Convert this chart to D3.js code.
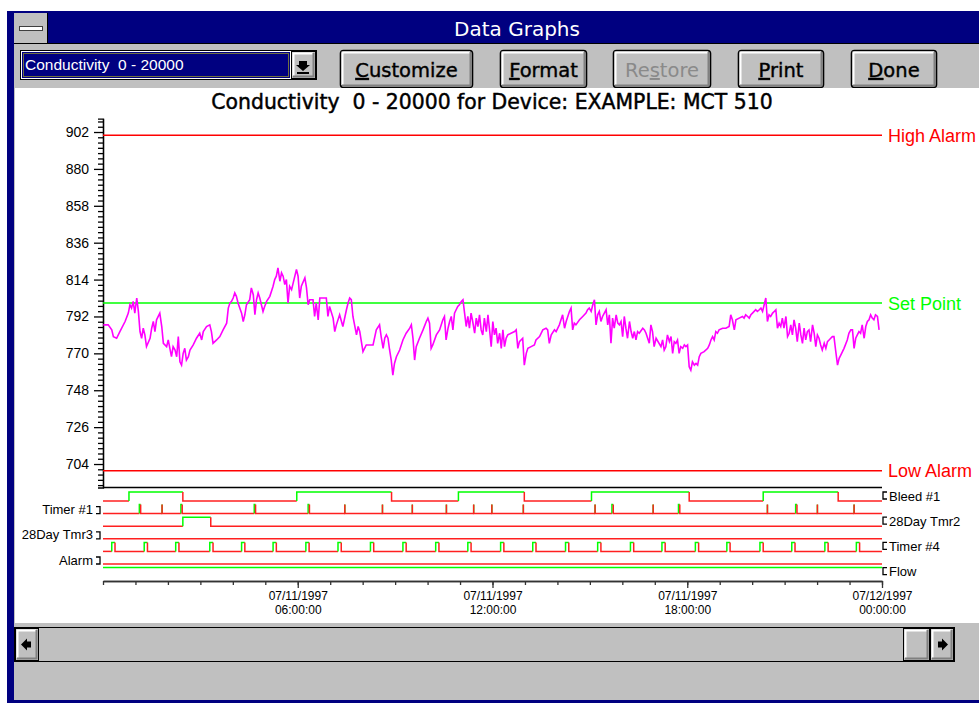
<!DOCTYPE html>
<html>
<head>
<meta charset="utf-8">
<style>
  body { margin: 0; background: #fff; }
  svg { display: block; }
</style>
</head>
<body>
<div id="chart_container"></div>
<script src="https://cdn.jsdelivr.net/npm/d3@7"></script>
<script>
// ---- data ----
const windowTitle = 'Data Graphs'
const comboText = 'Conductivity  0 - 20000'
const chartTitle = 'Conductivity  0 - 20000 for Device: EXAMPLE: MCT 510'

// y tick labels (conductivity)
const yTickValues = [704, 726, 748, 770, 792, 814, 836, 858, 880, 902]

// reference lines
const refNames = ['High Alarm', 'Set Point', 'Low Alarm']
const refValues = [900, 800, 700]
const refColors = ['#ff0000', '#00ff00', '#ff0000']

// x axis: hours after 07/11/1997 00:00:00
const xLabelHours = [6, 12, 18, 24]

// conductivity trace: [hours, value]
const conductivity = [
  [0.01,787],[0.16,787],[0.27,784],[0.32,780],[0.42,779],[0.52,783],[0.68,789],[0.78,794],[0.83,799],[0.88,797],
  [0.93,801],[0.98,794],[1.04,803],[1.09,795],[1.14,783],[1.19,779],[1.24,785],[1.29,781],[1.34,774],[1.45,779],
  [1.50,785],[1.55,789],[1.60,783],[1.65,790],[1.75,794],[1.81,786],[1.86,776],[1.96,774],[2.01,778],[2.06,773],
  [2.11,768],[2.16,774],[2.22,772],[2.27,768],[2.32,780],[2.37,765],[2.42,763],[2.47,770],[2.52,773],[2.57,766],
  [2.63,768],[2.68,772],[2.78,775],[2.88,779],[2.98,782],[3.04,778],[3.09,783],[3.19,786],[3.29,787],[3.34,783],
  [3.39,776],[3.50,778],[3.60,780],[3.70,784],[3.81,788],[3.86,797],[3.91,800],[3.96,801],[4.01,803],[4.06,806],
  [4.11,804],[4.16,800],[4.27,794],[4.32,789],[4.37,793],[4.42,799],[4.52,802],[4.57,809],[4.63,805],[4.68,793],
  [4.73,802],[4.78,806],[4.83,803],[4.88,799],[4.93,795],[4.98,798],[5.04,801],[5.14,804],[5.24,810],[5.29,814],
  [5.34,816],[5.39,821],[5.45,813],[5.50,818],[5.55,816],[5.60,811],[5.65,814],[5.70,800],[5.75,810],[5.81,808],
  [5.86,812],[5.96,820],[6.01,816],[6.06,803],[6.11,810],[6.22,815],[6.27,809],[6.32,799],[6.37,802],[6.47,802],
  [6.52,792],[6.57,800],[6.63,790],[6.68,803],[6.78,803],[6.88,803],[6.93,792],[6.98,798],[7.09,791],[7.14,783],
  [7.19,787],[7.29,793],[7.39,786],[7.50,796],[7.55,800],[7.60,803],[7.65,802],[7.70,792],[7.81,781],[7.86,786],
  [7.91,783],[8.01,771],[8.11,775],[8.22,775],[8.32,775],[8.42,784],
  [8.52,787],[8.57,780],[8.63,773],[8.68,779],[8.73,781],[8.78,779],[8.83,772],[8.88,766],[8.93,757],[8.98,764],
  [9.04,768],[9.14,772],[9.24,778],[9.34,782],[9.45,785],[9.50,787],[9.55,779],[9.60,766],[9.65,774],[9.75,779],
  [9.86,784],[9.96,789],[10.01,791],[10.06,788],[10.11,773],[10.16,775],[10.27,781],[10.37,784],[10.47,790],[10.52,792],
  [10.57,778],[10.63,785],[10.68,789],[10.73,792],[10.78,784],[10.83,794],[10.88,796],[10.93,798],[10.98,799],[11.04,801],
  [11.09,802],[11.14,794],[11.19,786],[11.24,792],[11.29,785],[11.34,794],[11.39,789],[11.45,782],[11.50,791],[11.55,786],
  [11.60,793],[11.65,784],[11.70,781],[11.75,791],[11.81,783],[11.86,793],[11.91,784],[11.96,774],[12.01,789],[12.06,781],
  [12.11,785],[12.16,776],[12.22,782],[12.27,773],[12.32,784],[12.37,774],[12.42,779],[12.47,781],[12.57,782],[12.68,783],
  [12.73,784],[12.78,773],[12.83,777],[12.93,779],[12.98,763],[13.04,770],[13.09,773],[13.19,774],[13.29,775],[13.34,778],
  [13.45,780],[13.55,784],[13.65,785],[13.70,784],[13.75,776],[13.81,781],[13.91,784],[13.96,783],[14.06,787],[14.11,790],
  [14.16,793],[14.22,785],[14.27,789],[14.37,795],[14.42,797],[14.47,784],[14.52,788],[14.57,787],[14.68,790],[14.78,792],
  [14.88,794],[14.93,796],[14.98,797],[15.04,795],[15.09,799],[15.14,802],[15.19,787],[15.24,793],[15.29,795],[15.34,789],
  [15.39,792],[15.50,796],[15.55,787],[15.60,793],[15.65,776],[15.70,791],[15.75,785],[15.81,793],[15.86,788],[15.91,787],
  [15.96,789],[16.01,780],[16.06,792],[16.11,785],[16.16,779],[16.22,789],[16.27,783],[16.32,779],[16.37,783],[16.42,778],
  [16.47,783],[16.52,782],[16.63,785],[16.68,784],[16.73,782],[16.83,776],[16.88,787],[16.93,783],[16.98,774],[17.04,779],
  [17.19,774],[17.24,778],[17.29,772],[17.34,774],[17.39,781],[17.45,777],[17.50,780],[17.55,770],[17.60,777],[17.65,776],
  [17.70,778],[17.75,770],[17.80,774],[17.86,773],[17.91,775],[17.96,774],[18.01,775],[18.06,762],[18.11,760],[18.16,765],
  [18.22,763],[18.27,764],[18.32,763],[18.37,768],[18.42,770],[18.52,771],[18.63,773],[18.68,775],[18.73,778],[18.78,780],
  [18.83,778],[18.88,783],[18.93,782],[18.98,784],[19.09,785],[19.19,785],[19.29,786],[19.34,793],[19.39,790],[19.45,784],
  [19.50,790],[19.60,791],[19.70,792],[19.75,791],[19.80,793],[19.86,792],[19.91,791],[19.96,793],[20.01,794],[20.11,796],
  [20.16,795],[20.22,796],[20.27,797],[20.32,795],[20.37,799],[20.42,803],[20.47,789],[20.52,793],[20.57,792],[20.63,794],
  [20.68,795],[20.73,796],[20.78,785],[20.83,788],[20.88,786],[20.93,791],[20.98,785],[21.04,792],[21.09,780],[21.14,782],
  [21.19,787],[21.24,781],[21.29,790],[21.34,785],[21.39,777],[21.45,788],[21.50,781],[21.55,776],[21.60,785],[21.65,778],
  [21.70,783],[21.75,784],[21.80,777],[21.86,787],[21.91,782],[21.96,774],[22.01,781],[22.06,779],[22.11,775],[22.16,772],
  [22.22,776],[22.27,773],[22.32,777],[22.37,778],[22.42,779],[22.47,780],[22.52,780],[22.57,772],[22.63,763],[22.68,767],
  [22.73,769],[22.83,773],[22.93,778],[22.98,782],[23.04,784],[23.09,784],[23.14,773],[23.19,779],[23.24,781],[23.29,783],
  [23.34,782],[23.39,787],[23.45,779],[23.50,786],[23.55,789],[23.60,790],[23.65,793],[23.70,791],[23.75,790],[23.80,793],
  [23.86,792],[23.91,784]
]

// digital channels, top to bottom; on-periods as [startHour, endHour]
const channelNames = ['Bleed #1', 'Timer #1', '28Day Tmr2', '28Day Tmr3', 'Timer #4', 'Alarm', 'Flow']
const bleed1On = [[0.80, 2.46], [5.97, 8.89], [10.95, 12.98], [15.05, 18.06], [20.34, 22.65]]
const timer1On = [[1.12, 1.16], [1.82, 1.82], [2.40, 2.44], [4.66, 4.70], [6.32, 6.36], [7.45, 7.45], [8.61, 8.61],
  [9.53, 9.53], [10.58, 10.58], [11.42, 11.42], [11.98, 11.98], [12.95, 12.95], [15.16, 15.16], [15.68, 15.72],
  [16.95, 16.95], [17.73, 17.77], [20.47, 20.47], [21.34, 21.38], [22.01, 22.01], [23.14, 23.14]]
const tmr2On = [[2.46, 3.32]]
const tmr3On = []
const timer4On = [[0.27, 0.37], [1.27, 1.37], [2.24, 2.34], [3.29, 3.39], [4.27, 4.37], [5.24, 5.34], [6.25, 6.35],
  [7.24, 7.34], [8.24, 8.34], [9.24, 9.34], [10.25, 10.35], [11.24, 11.34], [12.25, 12.35], [13.24, 13.34],
  [14.25, 14.35], [15.24, 15.34], [16.25, 16.35], [17.22, 17.32], [18.25, 18.35], [19.22, 19.32], [20.24, 20.34],
  [21.22, 21.32], [22.24, 22.34], [23.21, 23.31]]
const alarmOn = []
const flowOn = [[0, 24]]

// ---- drawing ----
const W = 979, H = 703
const navy = '#000080', gray = '#c0c0c0', dark = '#808080'
const uiFont = '"DejaVu Sans", Verdana, sans-serif'
const axFont = '"Liberation Sans", Arial, sans-serif'

const t0 = new Date(1997, 6, 11, 0, 0, 0)
const at = h => new Date(t0.getTime() + h * 3600000)

const svg = d3.select('#chart_container')
  .append('svg')
  .attr('width', W)
  .attr('height', H)

// window chrome
svg.append('rect').attr('width', W).attr('height', H).attr('fill', '#fff')
svg.append('rect').attr('x', 7).attr('y', 11).attr('width', W - 7).attr('height', H - 11).attr('fill', navy)
svg.append('rect').attr('x', 14).attr('y', 13).attr('width', W - 14).attr('height', 687).attr('fill', gray)
svg.append('rect').attr('x', 47).attr('y', 13).attr('width', W - 47).attr('height', 30).attr('fill', navy)
svg.append('line').attr('x1', 14).attr('x2', W).attr('y1', 43.5).attr('y2', 43.5).attr('stroke', '#000')
svg.append('line').attr('x1', 47.5).attr('x2', 47.5).attr('y1', 13).attr('y2', 43).attr('stroke', '#000')
svg.append('rect').attr('x', 19.5).attr('y', 26.5).attr('width', 23).attr('height', 4)
  .attr('fill', '#fff').attr('stroke', '#404040')
svg.append('text').attr('x', 517).attr('y', 36).attr('text-anchor', 'middle')
  .attr('font-family', uiFont).attr('font-size', 20).attr('fill', '#fff').text(windowTitle)

// 3d box helper
function bevel(x0, y0, w, h, round) {
  const g = svg.append('g')
  g.append('rect').attr('x', x0 + 0.5).attr('y', y0 + 0.5).attr('width', w - 1).attr('height', h - 1)
    .attr('rx', round ? 3 : 0).attr('fill', gray).attr('stroke', '#000').attr('stroke-width', round ? 1.6 : 1)
  g.append('path').attr('d', `M${x0 + 2.5},${y0 + h - 3} V${y0 + 2.5} H${x0 + w - 3}`)
    .attr('fill', 'none').attr('stroke', '#fff').attr('stroke-width', 2)
  g.append('path').attr('d', `M${x0 + 2},${y0 + h - 2.5} H${x0 + w - 2.5} V${y0 + 2}`)
    .attr('fill', 'none').attr('stroke', dark).attr('stroke-width', 2)
  return g
}

// combo box
svg.append('rect').attr('x', 20.5).attr('y', 50.5).attr('width', 296).attr('height', 29)
  .attr('fill', '#fff').attr('stroke', '#000')
svg.append('rect').attr('x', 22).attr('y', 52).attr('width', 268).attr('height', 26).attr('fill', navy)
svg.append('rect').attr('x', 23.5).attr('y', 53.5).attr('width', 265).attr('height', 23)
  .attr('fill', 'none').attr('stroke', '#e0e000').attr('stroke-dasharray', '1,1')
svg.append('text').attr('x', 25).attr('y', 70).attr('font-family', axFont).attr('font-size', 15.5)
  .attr('fill', '#fff').style('white-space', 'pre').text(comboText)
const arrowBtn = bevel(291, 51, 25, 28, false)
arrowBtn.append('path').attr('d', 'M299,61 h8 v4 h3 l-7,6 l-7,-6 h3 z').attr('fill', '#000')
arrowBtn.append('rect').attr('x', 297).attr('y', 72).attr('width', 12).attr('height', 2).attr('fill', '#000')

// buttons
const buttons = [
  { label: 'Customize', x: 340, w: 133, u: 0 },
  { label: 'Format', x: 500, w: 87, u: 0 },
  { label: 'Restore', x: 613, w: 98, u: 2, off: true },
  { label: 'Print', x: 738, w: 86, u: 0 },
  { label: 'Done', x: 851, w: 86, u: 0 }
]
buttons.forEach(b => {
  const g = bevel(b.x, 50, b.w, 38, true)
  const col = b.off ? '#8a8a8a' : '#000'
  const t = g.append('text').attr('x', b.x + b.w / 2).attr('y', 77).attr('text-anchor', 'middle')
    .attr('font-family', uiFont).attr('font-size', 19.5).attr('fill', col)
    .attr('stroke', col).attr('stroke-width', b.off ? 0 : 0.4)
  t.append('tspan').text(b.label.slice(0, b.u))
  t.append('tspan').attr('text-decoration', 'underline').style('text-decoration', 'underline')
    .text(b.label[b.u])
  t.append('tspan').text(b.label.slice(b.u + 1))
})

// white chart area
svg.append('rect').attr('x', 15).attr('y', 88).attr('width', W - 15).attr('height', 535).attr('fill', '#fff')

svg.append('text').attr('x', 492).attr('y', 109).attr('text-anchor', 'middle')
  .attr('font-family', uiFont).attr('font-size', 20.4).attr('fill', '#000')
  .attr('stroke', '#000').attr('stroke-width', 0.45)
  .style('white-space', 'pre').text(chartTitle)

// scales
const x = d3.scaleTime().domain([at(0), at(24)]).range([103, 882])
const y = d3.scaleLinear().domain([690, 910]).range([487.5, 118.6])
const yCh = d3.scalePoint().domain(channelNames).range([501, 576.6])
const xAxisY = 581

// y axis: minor ticks then labelled majors
const yMinor = d3.range(-4, 66).map(k => 704 + k * 22 / 7)
  .filter(v => v >= 690 && v <= 910 && !yTickValues.some(m => Math.abs(m - v) < 0.01))
svg.append('g').attr('transform', 'translate(103,0)').attr('color', '#000')
  .call(d3.axisLeft(y).tickValues(yMinor).tickSize(5).tickSizeOuter(5).tickFormat(''))
const yAx = svg.append('g').attr('transform', 'translate(103,0)').attr('color', '#000')
  .call(d3.axisLeft(y).tickValues(yTickValues).tickSize(9).tickSizeOuter(0).tickPadding(5))
yAx.selectAll('text').attr('font-family', axFont).attr('font-size', 14).attr('fill', '#000')

// bottom border of analog plot
svg.append('line').attr('x1', x.range()[0]).attr('x2', x.range()[1])
  .attr('y1', y.range()[0]).attr('y2', y.range()[0]).attr('stroke', '#000').attr('stroke-width', 1.3)

// reference lines
refValues.forEach((v, i) => {
  svg.append('line').attr('x1', x.range()[0]).attr('x2', x.range()[1])
    .attr('y1', y(v)).attr('y2', y(v)).attr('stroke', refColors[i]).attr('stroke-width', 1.5)
  svg.append('text').attr('x', 888).attr('y', y(v)).attr('dy', '0.36em')
    .attr('font-family', axFont).attr('font-size', 18).attr('fill', refColors[i]).text(refNames[i])
})

// conductivity trace
svg.append('path')
  .datum(conductivity)
  .attr('d', d3.line().x(d => x(at(d[0]))).y(d => y(d[1])))
  .attr('fill', 'none').attr('stroke', '#ff00ff').attr('stroke-width', 1.6)

// digital channels
const channelOn = [bleed1On, timer1On, tmr2On, tmr3On, timer4On, alarmOn, flowOn]
const red = '#ff2020', green = '#00ff00'
channelNames.forEach((name, i) => {
  const lo = yCh(name), hi = lo - 9
  const g = svg.append('g').attr('fill', 'none').attr('stroke-width', 1.5)
  let prev = 0, prevHigh = false
  const segs = []
  channelOn[i].forEach(([a, b]) => {
    if (a > prev || !prevHigh) {
      const pts = prevHigh ? [[prev, hi], [prev, lo]] : [[prev, lo]]
      pts.push([a, lo])
      if (a > 0 || prevHigh) segs.push({ c: red, pts })
    }
    const up = a > 0 ? [[a, lo], [a, hi]] : [[a, hi]]
    up.push([b, hi])
    segs.push({ c: green, pts: up })
    prev = b
    prevHigh = true
  })
  if (prev < 24) {
    const pts = prevHigh ? [[prev, hi], [prev, lo], [24, lo]] : [[0, lo], [24, lo]]
    segs.push({ c: red, pts })
  }
  const ln = d3.line().x(d => x(at(d[0]))).y(d => d[1])
  segs.forEach(s => g.append('path').attr('d', ln(s.pts)).attr('stroke', s.c))

  // label and bracket
  if (i % 2 === 0) {
    svg.append('path').attr('d', `M887,${lo - 9} H883 V${lo - 2} H887`)
      .attr('fill', 'none').attr('stroke', '#000').attr('stroke-width', 1.3)
    svg.append('text').attr('x', 889).attr('y', lo - 5).attr('dy', '0.36em')
      .attr('font-family', axFont).attr('font-size', 13).attr('fill', '#000').text(name)
  } else {
    svg.append('path').attr('d', `M96,${lo - 7} H100 V${lo} H96`)
      .attr('fill', 'none').attr('stroke', '#000').attr('stroke-width', 1.3)
    svg.append('text').attr('x', 93).attr('y', lo - 4).attr('dy', '0.36em').attr('text-anchor', 'end')
      .attr('font-family', axFont).attr('font-size', 13).attr('fill', '#000').text(name)
  }
})

// x axis: hourly minor ticks, 6-hourly labelled ticks
svg.append('g').attr('transform', `translate(0,${xAxisY})`).attr('color', '#333')
  .call(d3.axisBottom(x).ticks(d3.timeHour.every(1)).tickSize(4).tickSizeOuter(0).tickFormat(''))
const xAx = svg.append('g').attr('transform', `translate(0,${xAxisY})`).attr('color', '#333')
  .call(d3.axisBottom(x).tickValues(xLabelHours.map(at)).tickSize(7).tickSizeOuter(0).tickFormat(''))
xAx.selectAll('.tick').each(function (d) {
  const tk = d3.select(this)
  tk.append('text').attr('fill', '#000').attr('text-anchor', 'middle')
    .attr('font-family', axFont).attr('font-size', 12).attr('y', 19)
    .text(d3.timeFormat('%m/%d/%Y')(d))
  tk.append('text').attr('fill', '#000').attr('text-anchor', 'middle')
    .attr('font-family', axFont).attr('font-size', 12).attr('y', 32.5)
    .text(d3.timeFormat('%H:%M:%S')(d))
})
svg.selectAll('.domain, .tick line').attr('stroke-width', 1.3)

// scrollbar
svg.append('rect').attr('x', 14.5).attr('y', 627.5).attr('width', 940).attr('height', 34)
  .attr('fill', gray).attr('stroke', '#000')
const lBtn = bevel(15, 628, 24, 33, false)
lBtn.append('path').attr('d', 'M21,644.5 l6,-6 v3 h4 v6 h-4 v3 z').attr('fill', '#000')
bevel(903, 628, 27, 33, false)
const rBtn = bevel(930, 628, 24, 33, false)
rBtn.append('path').attr('d', 'M948,644.5 l-6,-6 v3 h-4 v6 h4 v3 z').attr('fill', '#000')
</script>
</body>
</html>
